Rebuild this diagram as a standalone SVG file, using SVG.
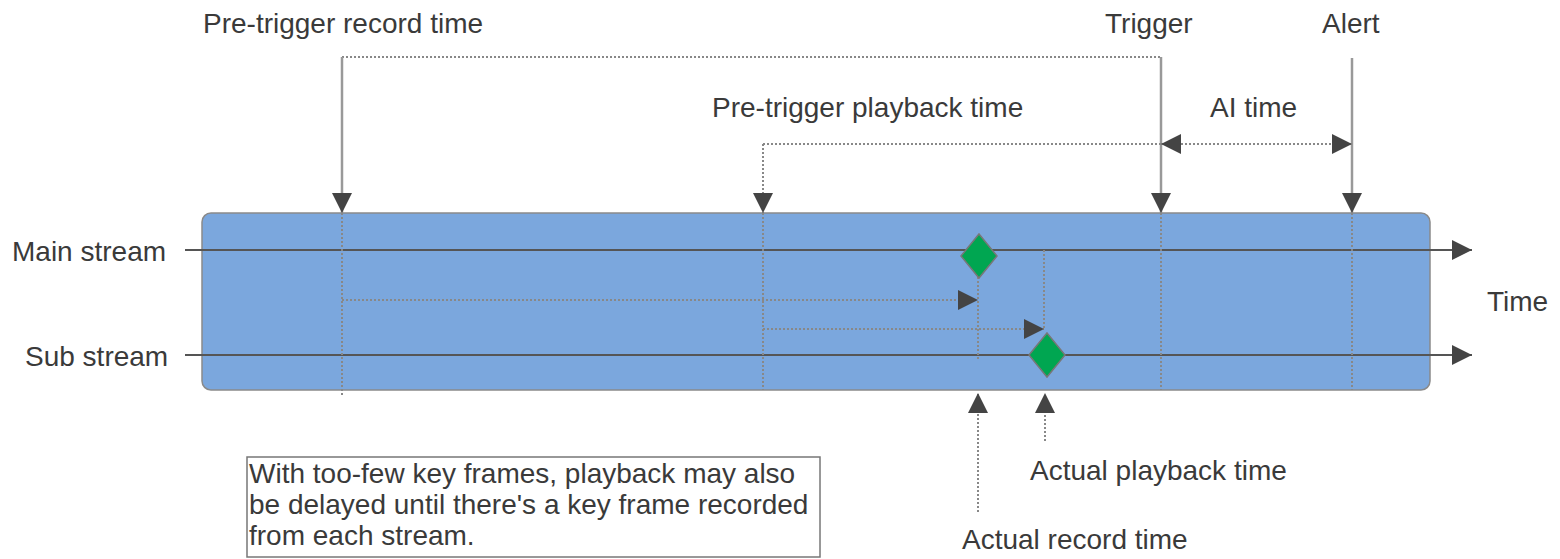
<svg xmlns="http://www.w3.org/2000/svg" width="1560" height="559" viewBox="0 0 1560 559">
<style>
  text { font-family: "Liberation Sans", Arial, sans-serif; font-size: 28px; fill: #3a3a3a; }
  .stream { stroke: #555; stroke-width: 2; fill: none; }
  .solid { stroke: #999; stroke-width: 2.5; fill: none; }
  .dot { stroke: #888; stroke-width: 2; stroke-dasharray: 2 2; fill: none; }
  .diamond { fill: #00a651; stroke: #777; stroke-width: 1.5; }
</style>
<defs>
  <marker id="arr" viewBox="0 0 20 20" refX="20" refY="10" markerWidth="20" markerHeight="20" markerUnits="userSpaceOnUse" orient="auto-start-reverse">
    <path d="M0,0 L20,10 L0,20 Z" fill="#444"/>
  </marker>
</defs>
<rect x="0" y="0" width="1560" height="559" fill="#ffffff"/>
<g id="timeline">
  <rect x="202" y="213" width="1228" height="177" rx="9" fill="#7ba7dd" stroke="#8a8a8a" stroke-width="1.5"/>
</g>
<g id="connectors">
  <path class="stream" d="M185,250 H1472" marker-end="url(#arr)"/>
  <path class="stream" d="M185,355 H1472" marker-end="url(#arr)"/>
  <path class="dot" d="M342,57 H1161"/>
  <path class="solid" d="M342,57 V213" marker-end="url(#arr)"/>
  <path class="solid" d="M1161,57 V213" marker-end="url(#arr)"/>
  <path class="solid" d="M1352,58 V213" marker-end="url(#arr)"/>
  <path class="dot" d="M763,144 H1161"/>
  <path class="dot" d="M763,144 V213" marker-end="url(#arr)"/>
  <path class="dot" d="M1161,144 H1352" marker-start="url(#arr)" marker-end="url(#arr)"/>
  <path class="dot" d="M342,213 V396"/>
  <path class="dot" d="M763,213 V390"/>
  <path class="dot" d="M1161,213 V390"/>
  <path class="dot" d="M1352,213 V390"/>
  <path class="dot" d="M342,300 H978" marker-end="url(#arr)"/>
  <path class="dot" d="M763,329 H1044" marker-end="url(#arr)"/>
  <path class="dot" d="M978,277 V360"/>
  <path class="dot" d="M1044,250 V329"/>
  <path class="dot" d="M978,512 V393" marker-end="url(#arr)"/>
  <path class="dot" d="M1045,441 V393" marker-end="url(#arr)"/>
</g>
<g id="keyframe-main">
  <polygon class="diamond" points="979,234 997,256 979,278 961,256"/>
</g>
<g id="keyframe-sub">
  <polygon class="diamond" points="1047,333 1065,355 1047,377 1029,355"/>
</g>
<g id="labels">
  <text x="203" y="33">Pre-trigger record time</text>
  <text x="1105" y="33">Trigger</text>
  <text x="1322" y="33">Alert</text>
  <text x="712" y="117">Pre-trigger playback time</text>
  <text x="1210" y="117">AI time</text>
  <text x="12" y="261">Main stream</text>
  <text x="25" y="366">Sub stream</text>
  <text x="1487" y="311">Time</text>
  <text x="1030" y="480">Actual playback time</text>
  <text x="962" y="549">Actual record time</text>
</g>
<g id="note">
  <rect x="247" y="457" width="573" height="100" fill="#ffffff" stroke="#777" stroke-width="1.5"/>
  <text x="249" y="483">With too-few key frames, playback may also</text>
  <text x="249" y="514">be delayed until there's a key frame recorded</text>
  <text x="249" y="545">from each stream.</text>
</g>
</svg>
